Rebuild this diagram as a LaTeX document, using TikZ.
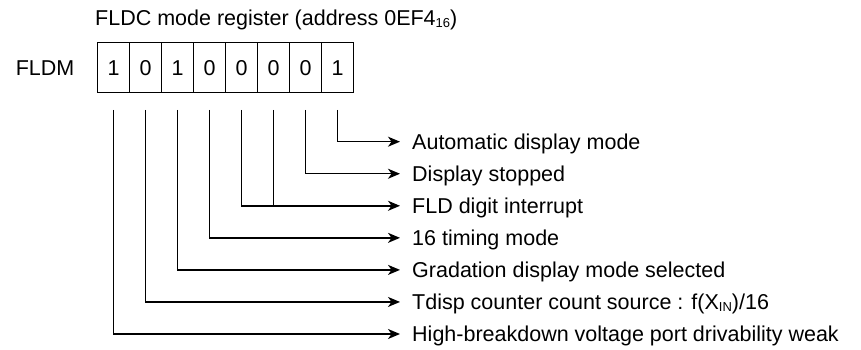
\documentclass[tikz,border=0pt]{standalone}
\usepackage{fontspec}
\setmainfont{Liberation Sans}
\usetikzlibrary{arrows.meta, positioning}
\newcommand{\regfont}{\fontsize{21.5}{26}\selectfont}
\newcommand{\smallidx}[1]{{\fontsize{13}{13}\selectfont\raisebox{-1.5pt}{#1}}}
\tikzstyle{bitcell} = [rectangle, draw=black, line width=1.4pt, minimum width=32pt, minimum height=50pt, inner sep=0pt, outer sep=0pt, text height=15.5pt, text depth=0pt, font=\regfont]
\tikzstyle{field} = [anchor=west, inner xsep=12pt, inner ysep=0pt, text height=15.5pt, text depth=0pt, font=\regfont]
\tikzstyle{regname} = [inner sep=0pt, text height=15.5pt, text depth=0pt, font=\regfont]
\tikzstyle{wire} = [line width=1.4pt, draw=black]
\tikzstyle{arrow} = [wire, -{Stealth[length=12pt, width=10pt, inset=3.5pt]}]

\begin{document}
\begin{tikzpicture}[x=1pt, y=-1pt]
    \useasboundingbox (0,0) rectangle (861,350);

    % register title and name
    \node (title) [inner sep=0pt, anchor=base west, font=\regfont] at (95,26) {FLDC mode register (address 0EF4\smallidx{16})};

    % bit cells, b7 ... b0
    \node (b7) [bitcell] at (113.5,67.5) {1};
    \node (b6) [bitcell, right=0pt of b7] {0};
    \node (b5) [bitcell, right=0pt of b6] {1};
    \node (b4) [bitcell, right=0pt of b5] {0};
    \node (b3) [bitcell, right=0pt of b4] {0};
    \node (b2) [bitcell, right=0pt of b3] {0};
    \node (b1) [bitcell, right=0pt of b2] {0};
    \node (b0) [bitcell, right=0pt of b1] {1};
    \node (fldm) [regname, left=23pt of b7] {FLDM};

    % bit descriptions
    \node (l0) [field] at (400,141.7) {Automatic display mode};
    \node (l1) [field] at (400,173.75) {Display stopped};
    \node (l2) [field] at (400,205.8) {FLD digit interrupt};
    \node (l4) [field] at (400,237.85) {16 timing mode};
    \node (l5) [field] at (400,269.9) {Gradation display mode selected};
    \node (l6) [field] at (400,301.95) {Tdisp counter count source : f(X\smallidx{IN})/16};
    \node (l7) [field] at (400,334) {High-breakdown voltage port drivability weak};

    \draw [arrow] ([yshift=-17.5pt]b0.south) |- (l0.west);
    \draw [arrow] ([yshift=-17.5pt]b1.south) |- (l1.west);
    \draw [wire] ([yshift=-17.5pt]b2.south) -- (b2.south |- l2.west);
    \draw [arrow] ([yshift=-17.5pt]b3.south) |- (l2.west);
    \draw [arrow] ([yshift=-17.5pt]b4.south) |- (l4.west);
    \draw [arrow] ([yshift=-17.5pt]b5.south) |- (l5.west);
    \draw [arrow] ([yshift=-17.5pt]b6.south) |- (l6.west);
    \draw [arrow] ([yshift=-17.5pt]b7.south) |- (l7.west);
\end{tikzpicture}
\end{document}
